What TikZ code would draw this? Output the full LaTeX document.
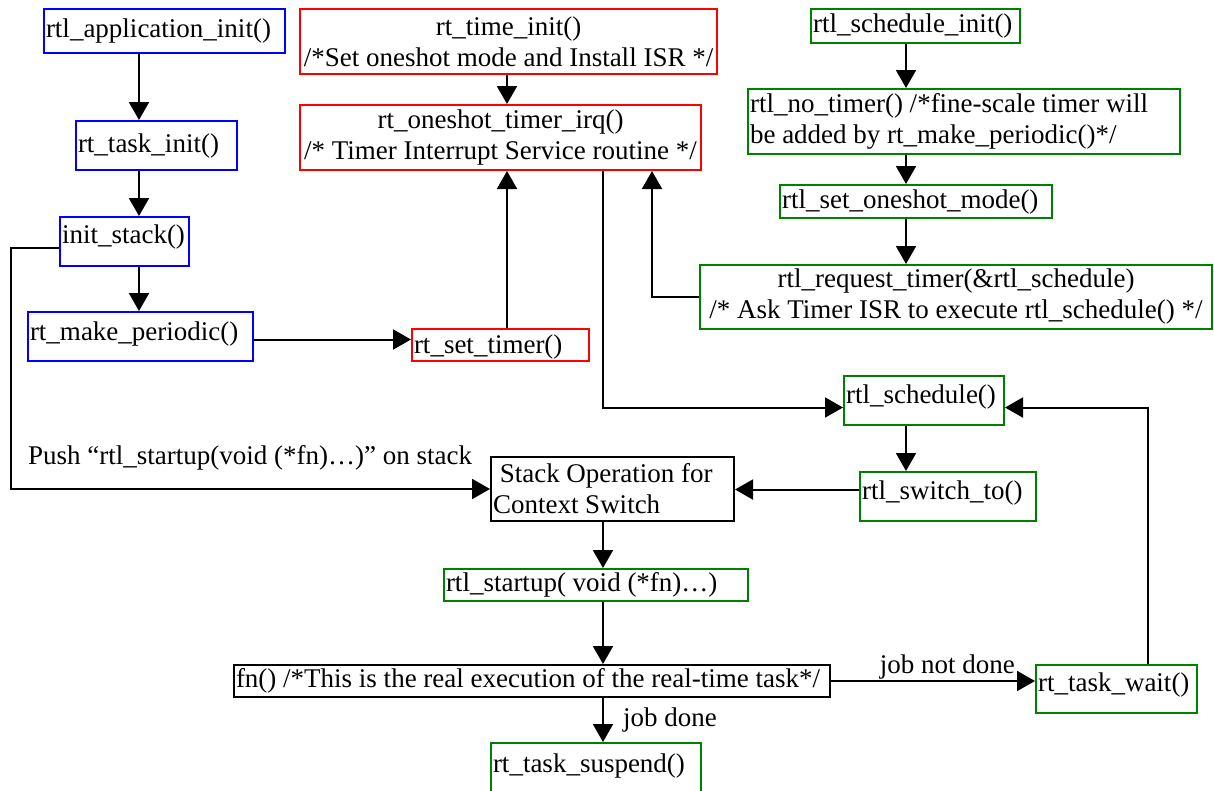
\documentclass[tikz,border=0pt]{standalone}
\usepackage{fontspec}
\setmainfont{Liberation Serif}
\usetikzlibrary{arrows.meta}
\definecolor{cblue}{RGB}{0,0,255}
\definecolor{cred}{RGB}{255,0,0}
\definecolor{cgreen}{RGB}{0,128,0}
\newcommand\lft[3][0pt]{\raisebox{#1}{\hbox to #2pt{#3\hfil}}}
\tikzset{
  bx/.style={draw=#1, line width=2pt, inner xsep=2pt, inner ysep=0pt, anchor=north west,
    font=\fontsize{27}{31}\selectfont, align=left},
  cbx/.style={bx=#1, align=center},
  sl/.style={text height=20pt, text depth=7pt},
  arr/.style={line width=2pt, -{Triangle[length=18pt,width=20pt]}},
  lbl/.style={font=\fontsize{27}{31}\selectfont, inner sep=1pt}
}
\begin{document}
\begin{tikzpicture}[x=1pt,y=-1pt]
\clip (0,0) rectangle (1214,790);
\fill[white] (0,0) rectangle (1214,790);
% columns
\coordinate (cA) at (139,0);
\coordinate (cB) at (507,0);
\coordinate (cC) at (603,0);
\coordinate (cD) at (652,0);
\coordinate (cE) at (906,0);
\coordinate (cF) at (1148,0);
\coordinate (cL) at (11,0);
% blue
\node[bx=cblue, sl, minimum height=44pt] (app) at (43,8) {\lft{237}{rtl\_application\_init()}};
\node[bx=cblue, sl, minimum height=49pt] (task) at (75,120) {\lft{157}{rt\_task\_init()}};
\node[bx=cblue, sl, minimum height=49pt] (stack) at (59,216) {\lft[5pt]{125}{init\_stack()}};
\node[bx=cblue, sl, minimum height=49pt] (per) at (27,311) {\lft[3pt]{221}{rt\_make\_periodic()}};
% red
\node[cbx=cred, minimum width=417pt, minimum height=65pt] (tinit) at (299,8) {rt\_time\_init()\\/*Set oneshot mode and Install ISR */};
\node[cbx=cred, minimum width=401pt, minimum height=65pt] (irq) at (299,104) {rt\_oneshot\_timer\_irq()\\/* Timer Interrupt Service routine */};
\node[bx=cred, sl, minimum height=32pt] (settimer) at (411,328) {\lft[-2pt]{173}{rt\_set\_timer()}};
% green
\node[bx=cgreen, sl, minimum height=34pt] (sinit) at (810,8) {\lft{205}{rtl\_schedule\_init()}};
\node[bx=cgreen, minimum height=65pt] (notimer) at (747,88) {\lft{428}{rtl\_no\_timer() /*fine-scale timer will}\\\lft{428}{be added by rt\_make\_periodic()*/}};
\node[bx=cgreen, sl, minimum height=33pt] (oneshot) at (779,184) {\lft{268}{rtl\_set\_oneshot\_mode()}};
\node[cbx=cgreen, minimum width=512pt, minimum height=64pt] (req) at (699,264) {rtl\_request\_timer(\&rtl\_schedule)\\/* Ask Timer ISR to execute rtl\_schedule() */};
\node[bx=cgreen, sl, minimum height=49pt] (sched) at (843,375) {\lft[4pt]{156}{rtl\_schedule()}};
\node[bx=cgreen, sl, minimum height=49pt] (switch) at (859,471) {\lft[4pt]{172}{rtl\_switch\_to()}};
\node[bx=black, minimum height=64pt] (stackop) at (490,456) {\lft{239}{\ Stack Operation for}\\\lft{239}{Context Switch}};
\node[bx=cgreen, sl, minimum height=32pt] (startup) at (443,568) {\lft{300}{rtl\_startup( void (*fn)…)}};
\node[bx=black, sl, minimum height=32pt] (fn) at (233,664) {\lft{592}{fn() /*This is the real execution of the real-time task*/}};
\node[bx=cgreen, sl, minimum height=62pt] (susp) at (490,742) {\lft[8pt]{206}{rt\_task\_suspend()}};
\node[bx=cgreen, sl, minimum height=48pt] (wait) at (1035,664) {\lft[4pt]{157}{rt\_task\_wait()}};
% label
\node[lbl, anchor=west] (push) at (27,458) {Push “rtl\_startup(void (*fn)…)” on stack};
% connectors left column
\draw[arr] (app.south -| cA) -- (task.north -| cA);
\draw[arr] (task.south -| cA) -- (stack.north -| cA);
\draw[arr] (stack.south -| cA) -- (per.north -| cA);
\draw[arr] ([yshift=-6pt]stack.west) coordinate (s1) -- (s1 -| cL) |- (stackop.west);
\draw[arr] ([yshift=-3pt]per.east) coordinate (p1) -- (p1 -| settimer.west);
% red column
\draw[arr] (settimer.north -| cB) -- (irq.south -| cB);
\draw[arr] (tinit.south -| cB) -- (irq.north -| cB);
\draw[arr] (irq.south -| cC) |- ([yshift=-7pt]sched.west);
\draw[arr] (req.west) -| (irq.south -| cD);
% green column
\draw[arr] (sinit.south -| cE) -- (notimer.north -| cE);
\draw[arr] (notimer.south -| cE) -- (oneshot.north -| cE);
\draw[arr] (oneshot.south -| cE) -- (req.north -| cE);
\draw[arr] (sched.south -| cE) -- (switch.north -| cE);
\draw[arr] ([yshift=7pt]switch.west) coordinate (s2) -- (s2 -| stackop.east);
% bottom
\draw[arr] (stackop.south -| cC) -- (startup.north -| cC);
\draw[arr] (startup.south -| cC) -- (fn.north -| cC);
\draw[arr] (fn.south -| cC) -- node[lbl, right, xshift=18pt] {job done} (susp.north -| cC);
\draw[arr] (fn.east) -- node[lbl, above, pos=0.57] {job not done} (fn.east -| wait.west);
\draw[arr] (wait.north -| cF) |- ([yshift=-7pt]sched.east);
\end{tikzpicture}
\end{document}
